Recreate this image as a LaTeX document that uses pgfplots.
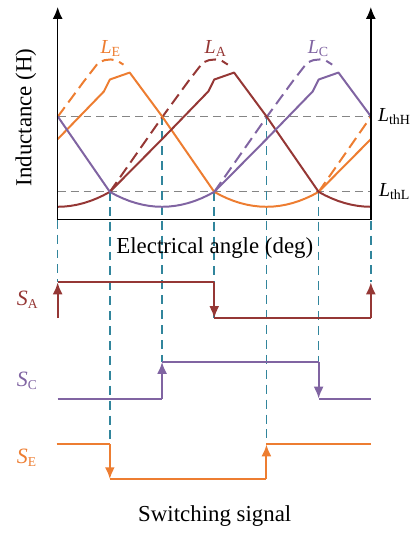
\documentclass[border=0pt]{standalone}
\usepackage{pgfplots}
\pgfplotsset{compat=1.18}
\usepackage{fontspec}
\setmainfont{Liberation Serif}
\usetikzlibrary{arrows.meta}
\definecolor{cE}{HTML}{ED7D31}
\definecolor{cA}{HTML}{953735}
\definecolor{cC}{HTML}{8064A2}
\definecolor{cT}{HTML}{31859C}
\definecolor{cG}{HTML}{858585}
\tikzset{arr/.style={-{Latex[length=6pt,width=5pt]}}}
\newcommand{\sbL}[1]{\raisebox{-0.3ex}{\fontsize{7}{8}\selectfont #1}}
\newcommand{\sbS}[1]{\raisebox{-0.3ex}{\fontsize{6.8}{8}\selectfont #1}}
\begin{document}
\begin{tikzpicture}
\begin{axis}[scale only axis, width=208.5pt, height=266.5pt,
  xmin=-1.10476, xmax=6.8381, ymin=0, ymax=533, y dir=reverse,
  hide axis, clip=false,
  every axis plot/.append style={line join=round}]
% bounding box helper
\addplot[draw=none] coordinates {(-1.10476,0) (6.8381,533)};
% threshold lines
\addplot[cG, line width=0.55pt, dash pattern=on 4pt off 2.5pt] coordinates {(0,117) (6,117)};
\addplot[cG, line width=0.55pt, dash pattern=on 4pt off 2.5pt] coordinates {(0,193) (6,193)};
% teal vertical dashed lines
\addplot[cT, line width=0.8pt, dash pattern=on 4.5pt off 3pt] coordinates {(0,221) (0,284)};
\addplot[cT, line width=0.8pt, dash pattern=on 4.5pt off 3pt] coordinates {(1,193) (1,476)};
\addplot[cT, line width=0.8pt, dash pattern=on 4.5pt off 3pt] coordinates {(2,117) (2,364)};
\addplot[cT, line width=0.8pt, dash pattern=on 4.5pt off 3pt] coordinates {(3,193) (3,320)};
\addplot[cT, line width=0.8pt, dash pattern=on 4.5pt off 3pt] coordinates {(4,117) (4,447)};
\addplot[cT, line width=0.8pt, dash pattern=on 4.5pt off 3pt] coordinates {(5,193) (5,401)};
\addplot[cT, line width=0.8pt, dash pattern=on 4.5pt off 3pt] coordinates {(6,117) (6,284)};
% dashed ideal inductance
\addplot[cE, line width=1pt, dash pattern=on 6pt off 3pt] coordinates {(0,117.5) (0.5,82) (0.78,63) (0.9,60.5) (1.02,59.8) (1.14,61) (1.26,65)};
\addplot[cE, line width=1pt, dash pattern=on 6pt off 3pt] coordinates {(5,193) (6,117.5)};
\addplot[cA, line width=1pt, dash pattern=on 6pt off 3pt] coordinates {(1,193) (2,118) (2.5,82) (2.78,63) (2.9,60.5) (3.02,59.8) (3.14,61) (3.26,65)};
\addplot[cC, line width=1pt, dash pattern=on 6pt off 3pt] coordinates {(3,193) (4,118) (4.5,82) (4.78,63) (4.9,60.5) (5.02,59.8) (5.14,61) (5.26,65)};
% solid inductance
\addplot[cE, line width=1pt] coordinates {(0,140) (0.886,92) (1,80) (1.38,73) (2,117) (3,193)
 (3.125,196.52) (3.25,199.56) (3.375,202.14) (3.5,204.25) (3.625,205.89) (3.75,207.06) (3.875,207.77) (4,208)
 (4.125,207.77) (4.25,207.06) (4.375,205.89) (4.5,204.25) (4.625,202.14) (4.75,199.56) (4.875,196.52) (5,193) (6,140)};
\addplot[cA, line width=1pt] coordinates {(0,208) (0.125,207.77) (0.25,207.06) (0.375,205.89) (0.5,204.25) (0.625,202.14) (0.75,199.56) (0.875,196.52) (1,193)
 (2,140) (2.886,92) (3,80) (3.38,73) (4,117) (5,193)
 (5.125,196.52) (5.25,199.56) (5.375,202.14) (5.5,204.25) (5.625,205.89) (5.75,207.06) (5.875,207.77) (6,208)};
\addplot[cC, line width=1pt] coordinates {(0,117) (1,193)
 (1.125,196.52) (1.25,199.56) (1.375,202.14) (1.5,204.25) (1.625,205.89) (1.75,207.06) (1.875,207.77) (2,208)
 (2.125,207.77) (2.25,207.06) (2.375,205.89) (2.5,204.25) (2.625,202.14) (2.75,199.56) (2.875,196.52) (3,193)
 (4,140) (4.886,92) (5,80) (5.38,73) (6,117)};
% axes
\addplot[black, line width=0.7pt, arr] coordinates {(0,221) (0,7)};
\addplot[black, line width=0.7pt] coordinates {(0,221) (6,221)};
\addplot[black, line width=0.7pt, arr] coordinates {(6,221) (6,7)};
% switching signals
\addplot[cA, line width=1pt, arr] coordinates {(0,320) (0,284)};
\addplot[cA, line width=1pt] coordinates {(0,284) (3,284)};
\addplot[cA, line width=1pt, arr] coordinates {(3,284) (3,320)};
\addplot[cA, line width=1pt] coordinates {(3,320) (6,320)};
\addplot[cA, line width=1pt, arr] coordinates {(6,320) (6,284)};
\addplot[cC, line width=1pt] coordinates {(0,401) (2,401)};
\addplot[cC, line width=1pt, arr] coordinates {(2,401) (2,364)};
\addplot[cC, line width=1pt] coordinates {(2,364) (5,364)};
\addplot[cC, line width=1pt, arr] coordinates {(5,364) (5,401)};
\addplot[cC, line width=1pt] coordinates {(5,401) (6,401)};
\addplot[cE, line width=1pt] coordinates {(-0.02,447) (1,447)};
\addplot[cE, line width=1pt, arr] coordinates {(1,447) (1,482)};
\addplot[cE, line width=1pt] coordinates {(1,482) (4,482)};
\addplot[cE, line width=1pt, arr] coordinates {(4,482) (4,447)};
\addplot[cE, line width=1pt] coordinates {(4,447) (6,447)};
% labels
\node[text=cE, font=\fontsize{10}{11}\selectfont] at (axis cs:1.01,49) {\textit{L}\sbL{E}};
\node[text=cA, font=\fontsize{10}{11}\selectfont] at (axis cs:3.02,49) {\textit{L}\sbL{A}};
\node[text=cC, font=\fontsize{10}{11}\selectfont] at (axis cs:4.99,49) {\textit{L}\sbL{C}};
\node[anchor=west, inner sep=0pt, font=\fontsize{10}{11}\selectfont] at (axis cs:6.13,117) {\textit{L}\sbL{thH}};
\node[anchor=west, inner sep=0pt, font=\fontsize{10}{11}\selectfont] at (axis cs:6.15,193) {\textit{L}\sbL{thL}};
\node[rotate=90, font=\fontsize{11.5}{13}\selectfont] at (axis cs:-0.61,118) {Inductance (H)};
\node[font=\fontsize{11.5}{13}\selectfont] at (axis cs:3.01,249) {Electrical angle (deg)};
\node[font=\fontsize{11.5}{13}\selectfont] at (axis cs:3.01,519) {Switching signal};
\node[anchor=west, inner sep=0pt, text=cA, font=\fontsize{11}{13}\selectfont] at (axis cs:-0.79,302) {\textit{S}\sbS{A}};
\node[anchor=west, inner sep=0pt, text=cC, font=\fontsize{11}{13}\selectfont] at (axis cs:-0.79,383) {\textit{S}\sbS{C}};
\node[anchor=west, inner sep=0pt, text=cE, font=\fontsize{11}{13}\selectfont] at (axis cs:-0.79,460) {\textit{S}\sbS{E}};
\end{axis}
\end{tikzpicture}
\end{document}
